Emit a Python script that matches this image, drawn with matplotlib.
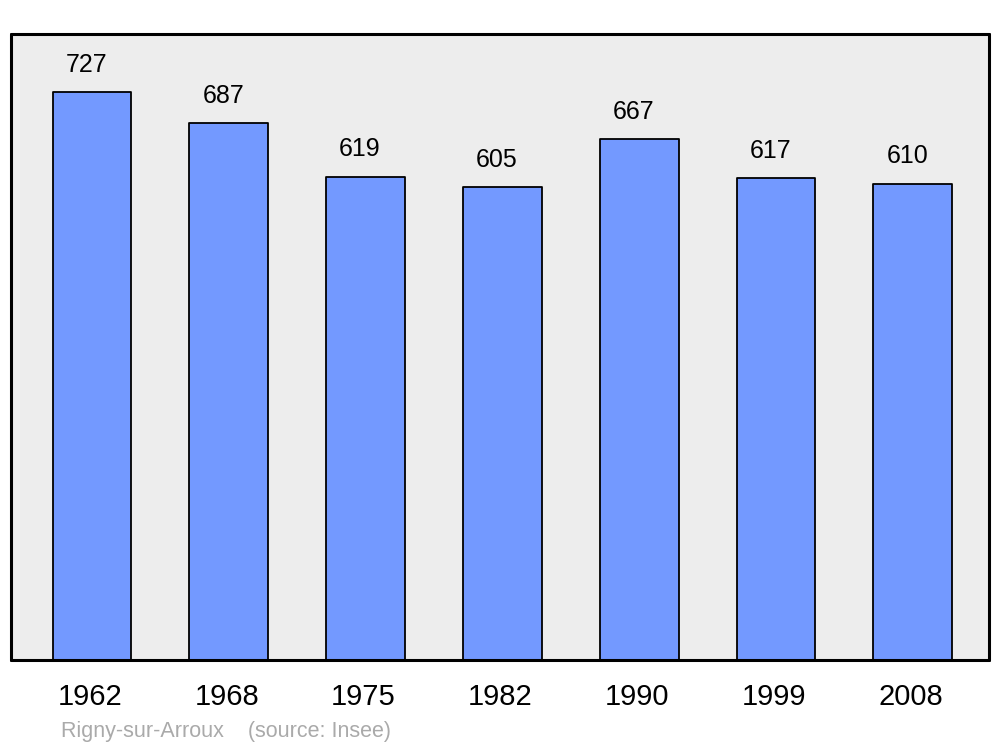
import matplotlib.pyplot as plt
import matplotlib.transforms as mtransforms

plt.rcParams['font.family'] = ['Liberation Sans', 'DejaVu Sans']

# Population de Rigny-sur-Arroux
annees = ['1962', '1968', '1975', '1982', '1990', '1999', '2008']
population = [727, 687, 619, 605, 667, 617, 610]

fig = plt.figure(figsize=(10, 7.47), dpi=100)
ax = fig.add_axes([0.011, 0.1165, 0.978, 0.838])
ax.set_facecolor('#ededed')

x = range(len(annees))
barres = ax.bar(x, population, width=0.577, color='#7399ff',
                edgecolor='black', linewidth=1.3)
for b in barres:
    b.set_joinstyle('round')

# valeurs au-dessus des barres
for xi, v in zip(x, population):
    ax.annotate(str(v), (xi, v), xytext=(-4, 19.5), textcoords='offset points',
                ha='center', va='center', fontsize=18)

ax.set_xlim(-0.592, 6.557)
ax.set_ylim(0, 801.5)
ax.set_xticks(list(x))
ax.set_xticklabels(annees, fontsize=21)
ax.tick_params(axis='x', length=0, pad=16.5)
decal = mtransforms.ScaledTranslation(-2 / 100, 0, fig.dpi_scale_trans)
for lab in ax.get_xticklabels():
    lab.set_transform(lab.get_transform() + decal)
ax.set_yticks([])
for s in ax.spines.values():
    s.set_linewidth(2.2)
    s.set_capstyle('round')

fig.text(0.061, 0.007, 'Rigny-sur-Arroux    (source: Insee)', color='#aaaaaa',
         fontsize=15.5, ha='left', va='bottom')

fig.savefig('out.png', dpi=100)
